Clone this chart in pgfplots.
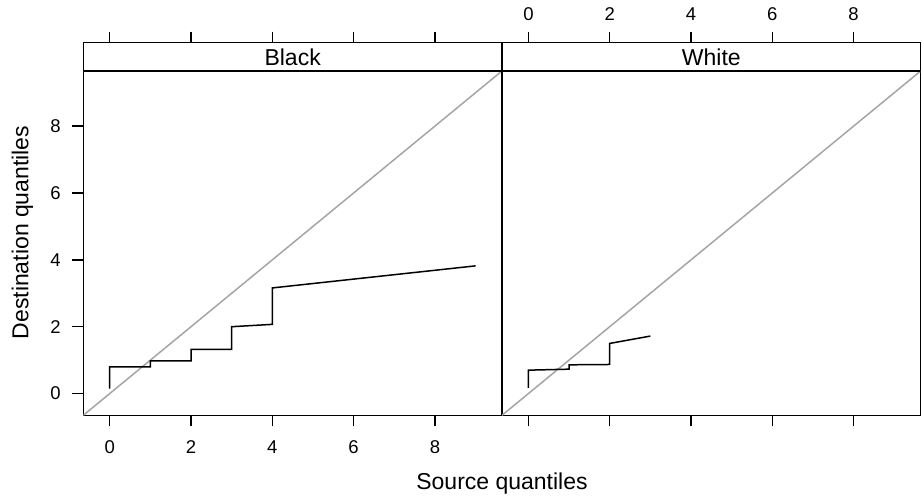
\documentclass[border=0pt]{standalone}
\usepackage{fontspec}
\setmainfont{Liberation Sans}
\usepackage{pgfplots}
\pgfplotsset{compat=1.18}
\definecolor{refgray}{RGB}{165,165,165}
\pgfplotsset{panel/.style={
  scale only axis, width=209.35pt, height=186.3pt,
  xmin=-0.65, xmax=9.65, ymin=-0.65, ymax=10.496,
  xtick={0,2,4,6,8}, ytick={0,2,4,6,8},
  tick align=outside, major tick length=5.5pt,
  axis line style={line width=0.75pt},
  every tick/.style={black, line width=0.75pt},
  tick label style={font=\fontsize{9.25}{11}\selectfont},
  yticklabel style={xshift=-2.3pt},
  /pgf/number format/assume math mode=true,
  anchor=south west,
}}
\begin{document}
\begin{tikzpicture}
\path[use as bounding box] (-41.65pt,-40.85pt) rectangle (419.35pt,207.65pt);
\begin{axis}[panel, at={(0pt,0pt)},
  ytick pos=left, xtick pos=both, xticklabel pos=lower,
  xticklabel style={yshift=-3.7pt}]
  \addplot[refgray, line width=0.75pt] coordinates {(-0.65,-0.65) (9.65,9.65)};
  \addplot[black, line width=0.75pt] coordinates {
    (0,0.15) (0,0.80) (1,0.80) (1,0.98) (2,0.98) (2,1.32) (3,1.32) (3,2.00)
    (4,2.07) (4,3.16) (9,3.82)};
  \draw[line width=0.85pt] (axis cs:-0.65,9.65) -- (axis cs:9.65,9.65);
  \node[font=\fontsize{11.5}{14}\selectfont] at (axis cs:4.5,10.073) {Black};
\end{axis}
\begin{axis}[panel, at={(209.35pt,0pt)},
  ytick=\empty, xtick pos=both, xticklabel pos=upper,
  xticklabel style={yshift=2pt}]
  \addplot[refgray, line width=0.75pt] coordinates {(-0.65,-0.65) (9.65,9.65)};
  \addplot[black, line width=0.75pt] coordinates {
    (0,0.17) (0,0.70) (1,0.73) (1,0.86) (2,0.87) (2,1.50) (3,1.72)};
  \draw[line width=0.85pt] (axis cs:-0.65,9.65) -- (axis cs:9.65,9.65);
  \node[font=\fontsize{11.5}{14}\selectfont] at (axis cs:4.5,10.073) {White};
\end{axis}
\node[font=\fontsize{11.5}{14}\selectfont, anchor=base] at (209.35pt,-37.35pt) {Source quantiles};
\node[font=\fontsize{11.5}{14}\selectfont, anchor=base, rotate=90] at (-27.5pt,91.4pt) {Destination quantiles};
\end{tikzpicture}
\end{document}
